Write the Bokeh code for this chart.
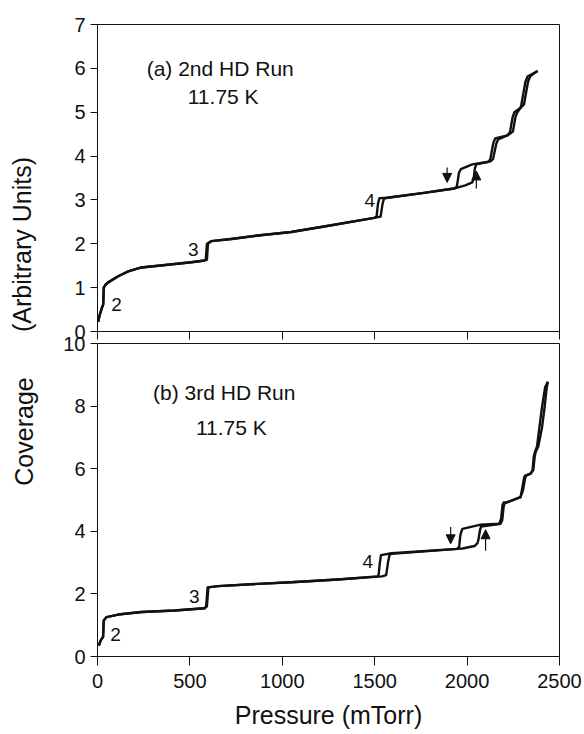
import math

from bokeh.embed import file_html
from bokeh.layouts import column, row
from bokeh.models import Arrow, CustomJSTickFormatter, FixedTicker, Label, NormalHead, Range1d
from bokeh.plotting import figure
from bokeh.resources import INLINE

FONT = "Liberation Sans"
INK = "#111111"

# ---------------------------------------------------------------- data ----
x_ticks = [0, 500, 1000, 1500, 2000, 2500]
y_ticks_a = [0, 1, 2, 3, 4, 5, 6, 7]
y_ticks_b = [0, 2, 4, 6, 8, 10]

# (a) 2nd HD run, adsorption branch (pressure in mTorr, coverage in arb. units)
ads_a_p = [4, 12, 25, 31, 34, 42, 58, 112, 166, 238, 328, 418, 508, 580, 592,
           598, 616, 724, 868, 1048, 1250, 1497, 1532, 1542, 1550, 1569, 1767,
           1929, 1947, 1990, 2028, 2036, 2042, 2050, 2127, 2140, 2158, 2168,
           2218, 2248, 2262, 2272, 2289, 2308, 2330, 2342, 2370, 2382]
ads_a_cov = [0.22, 0.38, 0.55, 0.62, 1.00, 1.06, 1.12, 1.26, 1.37, 1.46, 1.50,
             1.54, 1.58, 1.62, 1.64, 2.00, 2.06, 2.11, 2.19, 2.27, 2.41, 2.59,
             2.62, 2.90, 3.03, 3.05, 3.16, 3.26, 3.28, 3.33, 3.40, 3.50, 3.72,
             3.81, 3.88, 3.93, 4.28, 4.38, 4.47, 4.56, 4.90, 5.00, 5.10, 5.18,
             5.70, 5.82, 5.91, 5.94]

# (a) 2nd HD run, desorption branch
des_a_p = [4, 12, 25, 31, 34, 42, 58, 112, 166, 238, 328, 418, 508, 578, 586,
           592, 616, 724, 868, 1048, 1250, 1497, 1510, 1518, 1526, 1569, 1767,
           1929, 1944, 1950, 1956, 1966, 2028, 2115, 2125, 2142, 2152, 2218,
           2232, 2246, 2256, 2289, 2294, 2316, 2328, 2370, 2382]
des_a_cov = [0.22, 0.38, 0.55, 0.62, 1.00, 1.06, 1.12, 1.26, 1.37, 1.46, 1.50,
             1.54, 1.58, 1.62, 1.64, 2.00, 2.06, 2.11, 2.19, 2.27, 2.41, 2.59,
             2.62, 2.92, 3.04, 3.05, 3.16, 3.26, 3.30, 3.45, 3.62, 3.70, 3.81,
             3.87, 3.92, 4.30, 4.40, 4.47, 4.54, 4.88, 5.00, 5.10, 5.18, 5.70,
             5.82, 5.91, 5.94]

# (b) 3rd HD run, adsorption branch
ads_b_p = [7, 15, 22, 30, 34, 49, 112, 238, 418, 580, 592, 600, 652, 868, 1048,
           1300, 1540, 1562, 1572, 1580, 1590, 1947, 1975, 2040, 2056, 2062,
           2070, 2076, 2181, 2190, 2198, 2204, 2218, 2289, 2302, 2314, 2320,
           2343, 2358, 2366, 2372, 2385, 2405, 2418, 2430, 2437]
ads_b_cov = [0.35, 0.48, 0.56, 0.62, 1.15, 1.26, 1.34, 1.42, 1.47, 1.54, 1.60,
             2.21, 2.25, 2.32, 2.37, 2.46, 2.56, 2.60, 3.00, 3.24, 3.28, 3.44,
             3.45, 3.53, 3.62, 3.75, 4.05, 4.15, 4.24, 4.35, 4.80, 4.90, 4.93,
             5.09, 5.30, 5.70, 5.78, 5.84, 5.95, 6.40, 6.55, 6.70, 7.30, 7.90,
             8.55, 8.78]

# (b) 3rd HD run, desorption branch
des_b_p = [7, 15, 22, 30, 34, 49, 112, 238, 418, 578, 588, 596, 652, 868, 1048,
           1300, 1515, 1521, 1528, 1534, 1590, 1947, 1957, 1963, 1968, 1975,
           2056, 2073, 2174, 2184, 2192, 2198, 2218, 2289, 2296, 2308, 2314,
           2343, 2354, 2361, 2368, 2378, 2392, 2405, 2422, 2437]
des_b_cov = [0.35, 0.48, 0.56, 0.62, 1.15, 1.26, 1.34, 1.42, 1.47, 1.54, 1.60,
             2.21, 2.25, 2.32, 2.37, 2.46, 2.56, 2.60, 3.00, 3.24, 3.30, 3.44,
             3.50, 3.85, 3.98, 4.08, 4.19, 4.21, 4.24, 4.40, 4.85, 4.92, 4.93,
             5.09, 5.30, 5.70, 5.78, 5.84, 5.95, 6.40, 6.55, 6.70, 7.35, 7.95,
             8.60, 8.78]

# layer-step labels: (text, pressure, coverage)
steps_a = [("2", 103, 0.62), ("3", 518, 1.87), ("4", 1474, 2.99)]
steps_b = [("2", 97, 0.70), ("3", 524, 1.92), ("4", 1463, 3.04)]

# direction arrows: (pressure, coverage at tail, coverage at head)
arrows_a = [(1892, 3.74, 3.40), (2050, 3.26, 3.66)]
arrows_b = [(1911, 4.14, 3.60), (2100, 3.38, 4.05)]

# the shared y title, split into its two parts
y_title_parts = ["(Arbitrary Units)", "Coverage"]

W, H = 584, 734
STRIP_W = 60
TOP_H = 360          # top canvas, with room below its frame for the "0" label
OVERLAP = 37         # lower canvas slides up under the top one (transparent border)
x_range = Range1d(0, 2500)


def style_axes(p, yticks):
    p.grid.visible = False
    p.outline_line_color = INK
    p.outline_line_width = 1
    p.background_fill_color = "white"
    p.border_fill_color = None
    p.yaxis.ticker = FixedTicker(ticks=yticks)
    p.xaxis.ticker = FixedTicker(ticks=x_ticks)
    for ax in (p.xaxis[0], p.yaxis[0]):
        ax.axis_line_color = INK
        ax.axis_line_width = 1
        ax.major_tick_line_color = INK
        ax.major_tick_in = 0
        ax.major_tick_out = 7
        ax.minor_tick_line_color = None
        ax.major_label_text_font = FONT
        ax.major_label_text_font_size = "20px"
        ax.major_label_text_color = INK
    p.yaxis.major_label_standoff = 5


def draw_panel(p, ads_p, ads_c, des_p, des_c, steps, arrows, run, temp, run_xy, temp_xy):
    p.line(des_p, des_c, line_color=INK, line_width=2.4, line_join="round")
    p.line(ads_p, ads_c, line_color=INK, line_width=2.4, line_join="round")
    for txt, px, cy in steps:
        p.add_layout(Label(x=px, y=cy, text=txt, text_font=FONT, text_font_size="19px",
                           text_color=INK, text_align="center", text_baseline="middle"))
    for px, c0, c1 in arrows:
        p.add_layout(Arrow(x_start=px, y_start=c0, x_end=px, y_end=c1,
                           line_color=INK, line_width=1.2,
                           end=NormalHead(size=9, fill_color=INK, line_color=INK)))
    p.add_layout(Label(x=run_xy[0], y=run_xy[1], text=run, text_font=FONT,
                       text_font_size="21px", text_color=INK,
                       text_align="center", text_baseline="middle"))
    p.add_layout(Label(x=temp_xy[0], y=temp_xy[1], text=temp, text_font=FONT,
                       text_font_size="21px", text_color=INK,
                       text_align="center", text_baseline="middle"))


# ------------------------------------------------- y-title side strip ----
# a bare canvas in pixel units (y counted from the top) holding the rotated title
strip = figure(width=STRIP_W, height=H, x_range=Range1d(0, STRIP_W),
               y_range=Range1d(H, 0), output_backend="svg", toolbar_location=None,
               title_location=None, min_border=0)
strip.axis.visible = False
strip.grid.visible = False
strip.outline_line_color = None
strip.border_fill_color = "white"
for txt, sx, sy in zip(y_title_parts, [21, 23], [244, 431]):
    strip.add_layout(Label(x=sx, y=sy, text=txt, angle=math.pi / 2,
                           text_font=FONT, text_font_size="25px", text_color=INK,
                           text_align="center", text_baseline="middle"))

# ----------------------------------------------------------- top panel ----
top = figure(width=W - STRIP_W, height=TOP_H, x_range=x_range, y_range=Range1d(0, 7),
             output_backend="svg", toolbar_location=None, title_location=None,
             min_border_left=96 - STRIP_W, min_border_right=25, min_border_top=24,
             min_border_bottom=TOP_H - 24 - 307)
style_axes(top, y_ticks_a)
# the shared pressure axis is only labelled under the lower panel
top.xaxis.formatter = CustomJSTickFormatter(code="return ''")
top.xaxis.major_label_text_font_size = "1px"
top.xaxis.major_label_standoff = 0
top.xaxis.major_tick_out = 8
draw_panel(top, ads_a_p, ads_a_cov, des_a_p, des_a_cov, steps_a, arrows_a,
           "(a) 2nd HD Run", "11.75 K", (664, 6.0), (680, 5.36))

# -------------------------------------------------------- bottom panel ----
bottom_h = H - TOP_H + OVERLAP
bottom = figure(width=W - STRIP_W, height=bottom_h, x_range=x_range, y_range=Range1d(0, 10),
                output_backend="svg", toolbar_location=None, title_location=None,
                min_border_left=96 - STRIP_W, min_border_right=25,
                min_border_top=bottom_h - 313 - 78, min_border_bottom=78,
                margin=(-OVERLAP, 0, 0, 0))
style_axes(bottom, y_ticks_b)
bottom.xaxis.major_tick_out = 9
bottom.xaxis.major_label_standoff = 8
bottom.xaxis.axis_label = "Pressure (mTorr)"
bottom.xaxis.axis_label_text_font = FONT
bottom.xaxis.axis_label_text_font_size = "25px"
bottom.xaxis.axis_label_text_font_style = "normal"
bottom.xaxis.axis_label_text_color = INK
bottom.xaxis.axis_label_standoff = 10
draw_panel(bottom, ads_b_p, ads_b_cov, des_b_p, des_b_cov, steps_b, arrows_b,
           "(b) 3rd HD Run", "11.75 K", (686, 8.43), (724, 7.32))

layout = row(strip, column(top, bottom, spacing=0), spacing=0)

with open("out.html", "w") as f:
    f.write(file_html(layout, INLINE))
